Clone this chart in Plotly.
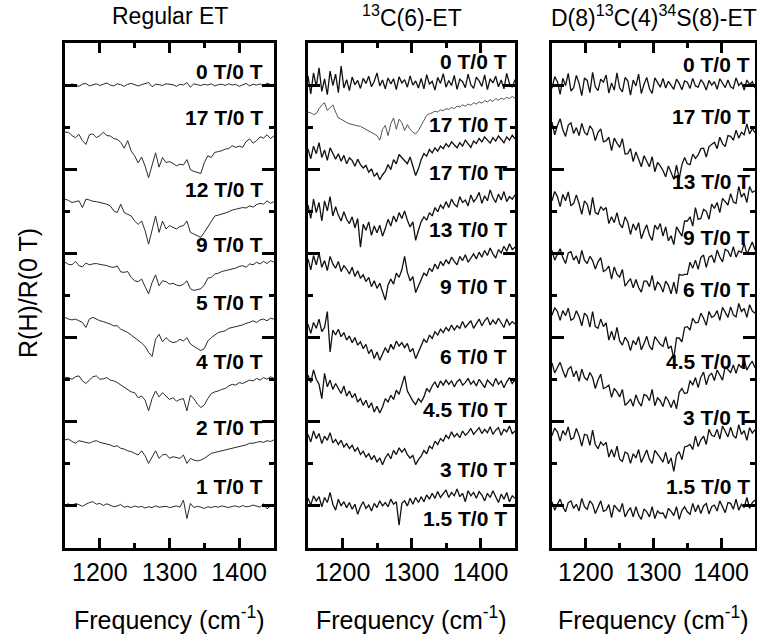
import numpy as np
import plotly.graph_objects as go

FREQ_RANGE = [1150, 1450]
FREQ_TICKS = [1200, 1300, 1400]
TITLES = ["Regular ET", "<sup>13</sup>C(6)-ET", "D(8)<sup>13</sup>C(4)<sup>34</sup>S(8)-ET"]

# ---------------- Panel 1: Regular ET (relative change, stacked) ----------------
p1_labels = ["0 T/0 T", "17 T/0 T", "12 T/0 T", "9 T/0 T", "5 T/0 T", "4 T/0 T", "2 T/0 T", "1 T/0 T"]
p1_offsets = [110, 98.8, 82.9, 67.9, 54.8, 40.5, 25.7, 10.2]
p1_label_y = [113.3, 102.4, 85.2, 72.1, 58.3, 44.3, 28.6, 14.5]
p1_0T = [0.2,-0.1,0.3,0.0,-0.3,0.2,0.4,-0.2,0.1,0.3,
         -0.1,0.2,0.5,0.0,-0.2,0.3,0.1,-0.3,0.2,0.4,
         0.0,-0.2,0.1,0.3,0.6,-0.4,0.2,0.1,-0.1,0.3,
         0.2,0.1,-0.3,0.2,0.0,0.6,-0.5,0.3,0.1,-0.1,
         0.2,0.0,0.3,-0.2,0.1,0.2,-0.1,0.3,0.0,0.2,
         -0.3,0.1,0.4,-0.2,0.2,0.0,0.3,-0.4,0.5,0.1,0.2]
p1_17T = [0.0,0.0,-0.8,-1.3,-0.5,-2.0,-2.9,-0.6,-0.4,-1.3,
          -0.8,0.0,-0.8,-0.9,-1.5,-1.7,-2.4,-3.8,-2.0,-4.5,
          -5.6,-7.3,-5.9,-8.1,-10.8,-7.5,-4.9,-8.3,-6.0,-7.2,
          -7.0,-7.4,-8.0,-7.6,-7.8,-6.5,-8.9,-9.3,-9.6,-9.8,
          -7.2,-5.6,-6.0,-4.8,-4.6,-4.4,-4.0,-3.9,-3.2,-3.6,
          -3.3,-3.6,-2.2,-1.6,-2.6,-2.0,-1.1,-1.4,-0.6,-1.5,-0.9]
p1_12T = [0.0,-0.3,-0.8,-0.6,-0.4,-2.0,0.0,-0.2,-0.5,-0.6,
          -0.8,-1.0,-1.2,-1.6,-2.8,-3.2,-1.2,-3.2,-3.6,-4.0,
          -5.2,-6.0,-5.2,-7.5,-10.7,-7.5,-4.0,-7.9,-5.2,-7.1,
          -6.3,-6.7,-7.1,-6.5,-6.3,-5.2,-7.9,-8.3,-8.7,-9.1,
          -7.9,-6.7,-5.2,-4.0,-3.8,-3.6,-3.3,-3.0,-2.6,-2.4,
          -2.2,-2.0,-2.1,-1.6,-1.9,-1.3,-1.0,-1.2,-0.4,-1.0,-0.6]
p1_9T = [0.0,-0.5,-0.6,0.2,-0.8,-1.1,-0.2,-0.6,-0.4,-0.3,
         -0.5,-0.6,-0.8,-1.1,-1.2,-0.9,-2.3,-2.4,-2.2,-3.6,
         -4.4,-4.6,-4.0,-5.8,-7.5,-4.8,-3.0,-5.6,-4.4,-4.6,
         -5.2,-5.0,-5.4,-5.6,-5.2,-4.4,-6.3,-6.7,-6.5,-6.3,
         -5.4,-3.8,-3.6,-2.8,-2.6,-2.2,-2.0,-1.8,-1.6,-1.4,
         -1.0,-0.8,-1.2,-0.4,-0.6,0.0,-0.4,0.2,-0.3,0.4,0.0]
p1_5T = [0.0,-0.4,-0.6,-0.4,-0.8,-1.2,-2.4,-0.4,0.0,-0.4,
         -0.8,-1.0,-1.4,-1.6,-2.0,-2.0,-2.8,-3.2,-3.6,-4.2,
         -4.8,-5.3,-6.1,-6.9,-8.3,-9.3,-5.2,-4.0,-5.8,-4.8,
         -5.6,-6.0,-5.8,-5.2,-5.6,-4.8,-6.3,-6.9,-7.5,-7.9,
         -7.4,-5.6,-4.8,-4.2,-3.6,-3.4,-3.2,-2.6,-2.4,-2.1,
         -2.0,-1.8,-1.4,-1.2,-0.8,-1.2,-0.6,-0.4,-0.8,-0.2,-0.4]
p1_4T = [0.0,0.0,-0.4,0.2,0.4,-0.8,-1.4,-0.6,0.2,0.4,
         -0.4,-0.3,0.0,-0.6,-0.8,-1.2,-1.8,-2.4,-3.0,-3.4,
         -3.6,-4.8,-4.4,-5.4,-7.9,-5.0,-3.2,-4.6,-3.6,-4.4,
         -5.2,-4.8,-5.6,-5.2,-5.0,-7.9,-4.2,-5.0,-6.3,-7.1,
         -6.5,-5.0,-3.8,-3.4,-3.2,-2.8,-2.6,-2.0,-1.6,-1.8,
         -1.2,-1.4,-1.0,-0.6,-0.8,-0.2,-0.6,0.0,-0.4,0.2,-0.2]
p1_2T = [0.0,0.2,-0.4,-0.8,-0.2,-0.4,-0.6,-0.8,-0.4,-0.2,
         -0.6,-0.8,-1.0,-1.2,-1.6,-1.4,-2.0,-2.2,-2.6,-2.8,
         -3.2,-3.6,-2.6,-3.8,-5.6,-4.0,-2.6,-4.4,-3.6,-3.4,
         -4.4,-4.0,-4.2,-4.4,-3.6,-5.6,-4.4,-4.8,-5.0,-4.8,
         -4.4,-3.8,-3.2,-3.0,-2.8,-2.6,-2.4,-2.2,-2.0,-1.8,
         -1.6,-1.4,-1.2,-0.8,-0.8,-0.6,-0.4,-0.6,-0.2,-0.4,0.0]
p1_1T = [0.0,0.3,-0.2,0.4,0.1,-0.3,0.2,0.6,0.8,0.2,
         0.4,-0.1,0.3,0.0,-0.4,-0.2,0.1,-0.5,-0.3,-0.6,
         -0.2,-0.5,-0.3,-0.7,-0.4,-0.6,-0.2,-0.5,-0.4,-0.3,
         -0.6,-0.4,-0.2,-0.5,1.2,-3.2,0.4,-0.6,-0.3,-0.5,
         -0.8,-0.4,-0.6,-0.3,-0.5,-0.2,-0.4,-0.6,-0.3,-0.2,
         -0.5,-0.1,-0.4,-0.3,0.0,-0.2,-0.5,0.3,-0.9,-0.2,0.1]
p1_series = [p1_0T, p1_17T, p1_12T, p1_9T, p1_5T, p1_4T, p1_2T, p1_1T]

# ---------------- Panel 2: 13C(6)-ET ----------------
p2_labels = ["0 T/0 T", "17 T/0 T", "17 T/0 T", "13 T/0 T", "9 T/0 T", "6 T/0 T", "4.5 T/0 T", "3 T/0 T", "1.5 T/0 T"]
p2_offsets = [110.7, 103.6, 94.3, 80.5, 67.9, 52.6, 40.7, 26.4, 11.4]
p2_label_y = [115.7, 100.7, 89.3, 75.7, 62.1, 45.5, 32.9, 18.6, 7.1]
p2_0T = [1.5,-2.8,2.2,-1.0,3.4,-2.2,0.8,-3.0,2.6,-0.8,1.9,-2.5,3.8,-1.4,0.6,-2.0,
         1.2,-0.6,0.4,-1.5,0.9,-0.3,1.4,-1.1,0.2,2.2,-0.9,0.5,-1.6,1.0,-0.4,0.8,-1.8,1.3,-0.2,0.6,-1.2,1.5,-0.7,0.3,-1.4,
         0.9,-1.6,1.8,-0.5,0.2,-1.9,1.1,-0.3,2.0,-1.2,0.4,-0.8,1.6,-1.7,0.7,0.1,-1.3,1.9,-0.6,-1.5,1.2,0.3,-1.0,1.7,-1.8,0.8,-0.2,1.4,-1.1,0.5,-1.6,2.1,-0.4,-1.2,0.6]
p2_17Ta = [0,-0.2,-0.6,-0.4,0.8,1.7,2.2,0.4,1.0,1.7,
           0,-1.4,-1.7,-2.2,-2.5,-2.8,-3.0,-3.2,-3.3,-3.4,
           -3.8,-4.1,-4.4,-4.8,-5.2,-5.6,-6.7,-4.1,-3.2,-5.6,
           -2.8,-1.4,-4.1,-1.7,-2.5,-4.4,-3.0,-4.1,-4.8,-5.2,
           -4.4,-3.2,-1.7,-0.8,-0.4,-0.2,0.2,0,0.5,0.3,
           0.8,0.6,1.1,0.8,1.4,1.2,1.7,1.4,1.9,1.6,
           2.2,1.9,2.4,2.1,2.7,2.4,2.9,2.5,3.2,2.8,
           3.3,3.0,3.5,3.2,3.7,3.3]
p2_17Tb = [0.5,-1.8,1.2,-0.6,2.0,-1.5,0.3,-2.2,0.8,-0.4,-1.9,
           -0.6,-2.4,-1.0,-3.0,-1.6,-2.2,-3.6,-1.9,-3.2,-4.0,
           -3.4,-5.0,-4.2,-6.0,-5.2,-6.8,-5.6,
           -4.8,-3.2,-4.4,-2.0,-3.0,-0.8,-1.6,
           -2.2,-3.0,-1.4,-3.8,-5.8,-4.2,
           -2.0,-0.6,-1.2,0.4,-0.4,0.8,0.0,1.2,
           0.6,1.8,1.0,2.2,1.4,0.8,2.0,1.2,2.6,1.6,0.9,2.4,
           1.8,3.0,2.2,3.4,2.6,1.9,3.2,2.4,3.6,2.8,2.0,3.4,2.6,3.8,2.9]
p2_13T = [1.0,-2.2,2.4,-0.8,1.6,-2.8,2.0,-0.4,3.0,-1.6,0.6,
          -1.4,-2.8,-0.6,-2.4,-3.4,-1.8,-4.4,-2.2,-9.0,
          -3.6,-5.0,-3.0,-6.2,-4.0,-5.6,-3.8,-6.4,
          -4.6,-2.4,-4.0,-1.6,-3.0,-0.8,-2.2,
          -0.4,-2.6,-4.2,-3.0,-7.4,-5.0,
          -3.0,-1.8,-2.6,-0.8,-1.6,0.4,-0.6,1.0,
          0.2,1.8,0.4,2.4,1.2,0.6,3.0,1.6,2.2,0.8,3.4,1.8,
          2.6,4.0,1.4,3.2,2.0,4.6,2.8,1.6,3.6,2.2,4.2,1.8,3.0,2.4,3.4]
p2_9T = [0.8,-1.8,1.6,-0.6,2.2,-1.2,0.4,-2.0,1.4,-0.4,-1.4,
         0.2,-2.2,-0.8,-1.6,-2.8,-1.2,-3.4,-2.0,-3.8,
         -3.0,-4.6,-3.6,-5.8,-4.4,-6.2,-5.0,-6.8,
         -9.0,-5.4,-4.0,-5.2,-2.6,-3.6,-1.8,
         1.4,-2.4,-4.4,-3.4,-7.2,-5.6,
         -4.0,-2.6,-3.2,-1.4,-2.2,-0.4,-1.6,0.2,
         -0.8,0.6,-0.4,1.2,0.2,-0.6,1.4,0.4,1.8,0.0,1.0,2.0,
         0.8,2.4,1.2,2.8,1.6,3.4,2.0,1.0,3.0,2.2,3.8,2.6,4.4,3.0,3.6]
p2_6T = [0.6,-1.6,1.0,-0.4,1.8,-1.2,-0.2,3.6,-6.0,-0.8,-2.0,
         -0.6,-2.4,-1.4,-3.2,-2.2,-3.8,-2.6,-4.4,-3.6,
         -5.2,-4.2,-6.4,-5.4,-7.6,-6.0,-8.0,-6.4,
         -5.0,-6.2,-4.2,-5.4,-3.4,-4.6,-3.8,
         -5.0,-4.0,-6.0,-5.2,-7.6,-6.0,
         -4.2,-3.0,-3.8,-2.0,-2.8,-1.2,-2.0,-0.6,
         -1.4,-0.2,-1.0,0.4,-0.8,0.2,-0.4,1.2,-0.2,0.6,1.4,-0.4,
         0.8,1.8,0.2,1.4,2.2,0.4,1.6,0.6,2.0,1.0,-0.2,1.8,0.4,1.2,0.6]
p2_45T = [0.4,-1.4,1.6,-0.6,-1.8,-5.2,0.8,-2.4,-0.8,-3.0,-1.6,
          -2.8,-4.0,-2.2,-4.6,-3.4,-5.0,-4.0,-6.0,-5.2,
          -6.8,-5.6,-7.4,-6.2,-8.4,-7.0,-8.6,-7.2,
          -5.2,-6.0,-4.4,-5.4,-3.2,-4.2,-1.8,
          0.2,-3.4,-4.6,-5.8,-6.6,-5.2,
          -6.0,-4.8,-2.8,-3.6,-2.2,-1.2,-2.6,-1.0,
          -2.0,-0.8,-1.8,-1.0,-2.4,-1.2,-0.6,-2.0,-1.4,-0.4,-1.8,-1.0,
          -2.2,-0.6,-1.6,-2.6,-0.8,-1.4,-2.2,-0.4,-1.8,-1.0,-2.6,-1.2,-0.2,-1.6,-0.8]
p2_3T = [0.6,-1.2,1.4,-0.4,0.8,-1.6,0.2,-0.8,1.0,-1.4,-0.6,
         -1.8,-0.8,-2.4,-1.6,-2.8,-2.0,-3.4,-2.6,-4.2,
         -3.4,-4.8,-4.0,-5.4,-4.4,-6.0,-5.0,-6.6,
         -5.0,-4.0,-5.2,-3.2,-4.2,-2.6,-3.6,
         -2.8,-4.2,-5.0,-4.4,-6.6,-5.4,
         -4.6,-3.2,-4.0,-2.2,-2.8,-1.0,-1.8,-0.4,
         -1.0,0.4,-0.4,1.2,0.0,0.8,-0.2,1.4,0.4,1.0,2.0,0.6,
         1.4,2.2,0.8,1.8,1.0,2.4,0.6,1.6,2.2,0.4,1.8,1.2,2.6,0.8,1.4]
p2_15T = [0.4,-1.2,1.0,-0.2,0.8,-1.6,0.6,-0.6,1.8,-1.0,-2.4,
          0.2,-1.4,-0.4,-1.8,-0.6,-2.2,-1.0,-3.4,-1.6,
          -0.4,-2.0,-1.2,-2.6,-0.8,-1.8,-0.2,-1.4,
          -0.6,-1.6,0.2,-1.0,-0.4,-6.0,-0.8,
          -0.2,-1.4,0.4,-1.0,0.6,-0.6,
          0.8,-0.4,1.2,0.2,1.6,0.4,2.0,0.6,
          1.4,2.4,0.6,1.8,1.0,2.6,0.8,1.6,-0.4,2.2,1.0,1.8,
          0.4,2.0,1.2,-0.2,1.6,0.6,2.2,0.8,-0.6,1.4,0.2,1.8,-0.4,1.0,0.4]
p2_series = [p2_0T, p2_17Ta, p2_17Tb, p2_13T, p2_9T, p2_6T, p2_45T, p2_3T, p2_15T]

# ---------------- Panel 3: D(8)13C(4)34S(8)-ET ----------------
p3_labels = ["0 T/0 T", "17 T/0 T", "13 T/0 T", "9 T/0 T", "6 T/0 T", "4.5 T/0 T", "3 T/0 T", "1.5 T/0 T"]
p3_offsets = [110.2, 100, 83.3, 69.8, 56, 43.1, 27.4, 10.2]
p3_label_y = [115, 102.6, 87.1, 73.8, 61.4, 44.3, 31, 14.5]
p3_0T = [-1.0,1.8,0.6,-2.4,1.4,-0.3,2.6,-1.6,-0.8,2.1,0.2,
         -2.7,1.5,0.9,-2.0,2.8,-0.6,-1.5,1.2,0.5,
         2.2,-2.1,0.3,-1.4,2.7,-0.9,-1.8,1.6,
         0.8,-2.6,1.0,-0.4,2.4,-2.2,0.0,
         1.6,-1.0,-2.2,1.5,0.5,-0.7,
         1.4,-0.9,0.7,-0.2,-1.2,1.2,0.2,-1.3,
         0.8,0.5,-1.0,1.4,-0.4,-0.7,1.1,0.2,-1.4,0.9,-0.2,0.6,
         -1.2,1.3,0.1,-0.8,1.0,-0.6,-1.0,1.5,-0.3,0.4,-1.4,1.0,-0.1,0.6,-0.9]
p3_17T = [1.2,-1.8,0.4,2.0,-0.6,-2.2,0.5,1.0,-1.5,-0.1,-2.0,
          0.9,-1.2,-1.9,0.3,-0.6,-3.2,-1.2,-0.4,-3.5,
          -3.2,-2.4,-5.6,-2.6,-3.8,-4.8,-2.7,-6.4,
          -6.3,-5.1,-8.2,-5.9,-7.6,-9.4,-6.8,
          -8.2,-9.4,-7.0,-10.6,-8.4,-9.2,
          -10.3,-11.8,-9.2,-10.6,-12.4,-9.0,-12.2,-8.9,
          -7.2,-8.7,-8.9,-6.4,-7.4,-6.6,-5.1,-5.0,-7.1,-4.6,-4.1,-3.6,
          -5.1,-2.4,-3.9,-4.6,-2.0,-2.2,-3.1,-0.7,-2.6,-1.2,-1.8,0.8,-1.6,-0.3,-1.3]
p3_13T = [-0.8,1.4,0.2,-2.2,0.7,-0.8,1.3,-2.0,-1.4,0.6,-1.5,
          -4.0,-0.8,-1.6,-4.2,0.0,-3.6,-4.0,-2.2,-3.0,
          -2.4,-6.2,-4.6,-6.0,-3.6,-6.3,-7.2,-4.6,
          -5.9,-8.8,-6.3,-7.8,-6.0,-9.8,-8.0,
          -6.5,-9.0,-10.2,-6.6,-7.6,-6.2,
          -9.2,-7.0,-10.3,-9.1,-11.2,-7.0,-8.2,-9.2,
          -5.6,-5.6,-4.6,-6.8,-2.4,-5.2,-5.0,-2.8,-3.3,-5.2,-1.6,-2.6,
          -1.2,-3.6,-0.2,-1.0,-1.8,0.9,-1.1,-1.4,2.6,0.1,1.0,-1.2,2.6,1.2,1.6]
p3_9T = [0.9,-1.4,0.0,1.3,-0.8,-2.2,0.3,0.6,-1.4,-0.4,-2.3,
         0.9,-1.4,-2.2,-0.5,-1.5,-3.5,-1.8,-0.8,-4.1,
         -3.7,-2.8,-5.9,-3.0,-4.8,-5.4,-3.6,-7.6,
         -6.6,-5.8,-8.0,-6.0,-7.9,-9.0,-6.4,
         -6.4,-7.7,-5.0,-8.6,-6.6,-7.3,
         -9.0,-6.4,-7.4,-9.4,-6.6,-9.4,-4.8,-5.0,
         -4.8,-4.8,-1.9,-3.3,-1.4,-3.6,-0.8,-0.2,-3.1,-0.7,-0.3,-2.0,
         1.0,-0.7,-1.8,1.2,0.8,-0.6,1.8,-0.7,0.8,0.4,2.6,0.0,1.6,2.9,1.0]
p3_6T = [-0.7,1.1,0.2,-1.9,0.4,-0.8,1.0,-1.9,-1.5,0.4,-1.0,
         -3.2,-0.2,-0.9,-3.5,0.2,-3.4,-3.8,-1.6,-3.4,
         -2.5,-6.6,-4.5,-6.6,-3.6,-6.8,-7.8,-5.9,
         -6.9,-9.1,-6.7,-7.7,-5.8,-8.9,-7.4,
         -5.7,-8.0,-8.9,-5.8,-6.6,-7.6,
         -8.1,-5.8,-8.6,-8.0,-11.0,-6.1,-6.1,-7.0,
         -3.6,-3.4,-4.2,-1.4,-2.5,-2.4,-0.2,-1.4,-3.1,0.2,-1.2,-0.8,
         0.4,-1.9,1.2,-0.2,-1.2,1.3,-0.6,-1.1,2.1,0.2,0.9,-1.2,1.8,0.3,-0.2]
p3_45T = [0.9,-1.5,-0.2,1.0,-0.9,-2.6,-0.6,0.0,-2.4,-1.0,-3.5,
          -0.6,-2.6,-3.2,-1.4,-2.6,-5.2,-3.2,-1.8,-5.2,
          -4.9,-4.4,-7.3,-5.2,-6.0,-7.2,-5.4,-9.2,
          -8.6,-7.7,-9.4,-6.7,-8.4,-9.4,-6.6,
          -6.9,-8.1,-5.4,-9.3,-7.4,-8.1,
          -9.5,-7.1,-8.1,-9.7,-7.9,-10.0,-6.1,-5.2,
          -6.4,-6.2,-3.3,-4.4,-2.6,-5.0,-2.5,-1.3,-4.3,-2.2,-1.6,-3.3,
          -0.8,-2.0,-3.2,0.0,-0.6,-1.4,0.4,-1.6,0.6,-0.3,1.6,-0.8,0.4,1.3,-0.3]
p3_3T = [-0.7,1.1,0.2,-2.0,0.5,-0.6,1.4,-1.6,-1.2,1.0,-0.7,
         -3.2,-0.4,-0.6,-3.0,0.6,-2.8,-3.8,-2.2,-3.0,
         -2.3,-5.8,-4.0,-5.8,-3.2,-6.3,-6.8,-4.6,
         -5.0,-7.3,-5.0,-6.0,-4.0,-7.1,-5.6,
         -4.1,-6.3,-7.3,-4.2,-5.0,-6.0,
         -7.0,-4.6,-7.4,-6.0,-9.2,-5.3,-4.5,-6.4,
         -3.4,-3.2,-2.8,-4.0,-0.8,-3.3,-1.7,-0.8,-2.8,0.8,-0.6,-0.9,
         0.8,-1.5,1.6,0.1,-1.0,1.3,-0.7,-1.3,1.9,-0.4,0.5,-1.8,1.2,-0.1,0.7]
p3_15T = [0.8,-1.2,0.2,1.4,-0.4,-1.6,0.6,1.0,-0.8,0.2,-1.4,
          1.6,-0.4,-1.0,1.0,0.2,-2.0,-0.3,1.0,-1.5,
          -1.2,0.1,-3.0,0.0,-0.8,-1.6,0.4,-2.8,
          -1.5,-0.6,-2.8,-0.4,-2.4,-3.4,-0.9,
          -1.6,-2.8,-0.4,-3.2,-1.4,-2.0,
          -1.9,-3.2,-0.8,-1.5,-2.5,-0.4,-3.4,-1.3,
          -0.4,-1.6,-2.2,0.4,-1.6,0.0,-2.0,-0.2,0.4,-2.1,-0.4,0.0,
          -1.4,1.0,-0.6,-1.8,0.6,0.4,-1.0,1.4,-1.2,0.2,-0.6,1.8,-0.8,0.6,1.2]
p3_series = [p3_0T, p3_17T, p3_13T, p3_9T, p3_6T, p3_45T, p3_3T, p3_15T]

panels = [
    (p1_series, p1_offsets, p1_labels, p1_label_y, 1437),
    (p2_series, p2_offsets, p2_labels, p2_label_y, 1442),
    (p3_series, p3_offsets, p3_labels, p3_label_y, 1445),
]

W, H = 757, 643
x_dom = [(65 / W, 274 / W), (308 / W, 515 / W), (552 / W, 755 / W)]
y_dom = ((643 - 548) / H, (643 - 43) / H)
FONT = "Liberation Sans, Arial, Helvetica, sans-serif"

fig = go.Figure()
annotations = []
for i, (series, offsets, labels, label_y, lab_x) in enumerate(panels):
    xa = "x" if i == 0 else f"x{i+1}"
    ya = "y" if i == 0 else f"y{i+1}"
    for j, (vals, off) in enumerate(zip(series, offsets)):
        v = np.asarray(vals, dtype=float)
        freq = np.linspace(FREQ_RANGE[0], FREQ_RANGE[1], len(v))
        if i == 0:
            color, width = "#2a2a2a", 1.0
        elif i == 1 and j == 1:
            color, width = "#555555", 1.0
        else:
            color, width = "#111111", 1.3
        fig.add_trace(go.Scatter(x=freq, y=off + v, mode="lines",
                                 line=dict(color=color, width=width),
                                 xaxis=xa, yaxis=ya, hoverinfo="skip",
                                 showlegend=False))
    for lab, ly in zip(labels, label_y):
        annotations.append(dict(text=f"<b>{lab}</b>", x=lab_x, y=ly, xref=xa, yref=ya,
                                xanchor="right", yanchor="middle", showarrow=False,
                                font=dict(size=21, family=FONT, color="black")))
    cx = (x_dom[i][0] + x_dom[i][1]) / 2
    annotations.append(dict(text=TITLES[i], x=cx, y=1 - 16 / H, xref="paper", yref="paper",
                            xanchor="center", yanchor="middle", showarrow=False,
                            font=dict(size=23, family=FONT, color="black")))
    annotations.append(dict(text="Frequency (cm<sup>-1</sup>)", x=cx, y=(H - 618) / H,
                            xref="paper", yref="paper", xanchor="center", yanchor="middle",
                            showarrow=False, font=dict(size=25, family=FONT, color="black")))

annotations.append(dict(text="R(H)/R(0 T)", x=28 / W, y=(H - 293) / H, xref="paper", yref="paper",
                        xanchor="center", yanchor="middle", textangle=-90, showarrow=False,
                        font=dict(size=25, family=FONT, color="black")))

axis_common = dict(showline=True, linewidth=3, linecolor="black", mirror="ticks",
                   ticks="inside", tickwidth=3, tickcolor="black", showgrid=False,
                   zeroline=False, fixedrange=True)
layout = dict(width=W, height=H, margin=dict(l=0, r=0, t=0, b=0),
              plot_bgcolor="white", paper_bgcolor="white", showlegend=False,
              annotations=annotations)
for i in range(3):
    xk = "xaxis" if i == 0 else f"xaxis{i+1}"
    yk = "yaxis" if i == 0 else f"yaxis{i+1}"
    xa = "x" if i == 0 else f"x{i+1}"
    ya = "y" if i == 0 else f"y{i+1}"
    layout[xk] = dict(axis_common, domain=list(x_dom[i]), anchor=ya, range=FREQ_RANGE,
                      tickvals=FREQ_TICKS, ticktext=[str(t) for t in FREQ_TICKS], ticklen=10,
                      tickfont=dict(size=25, family=FONT, color="black"),
                      minor=dict(tickvals=[1250, 1350], ticks="inside", ticklen=5,
                                 tickwidth=3, tickcolor="black"))
    layout[yk] = dict(axis_common, domain=list(y_dom), anchor=xa, range=[0, 120],
                      tickvals=[10, 30, 50, 70, 90, 110], showticklabels=False, ticklen=12,
                      minor=dict(tickvals=[20, 40, 60, 80, 100], ticks="inside", ticklen=5,
                                 tickwidth=3, tickcolor="black"))
fig.update_layout(**layout)
fig.write_html("out.html", config={"displayModeBar": False, "staticPlot": True},
               post_script="document.body.style.margin='0px';document.body.style.overflow='hidden';")
